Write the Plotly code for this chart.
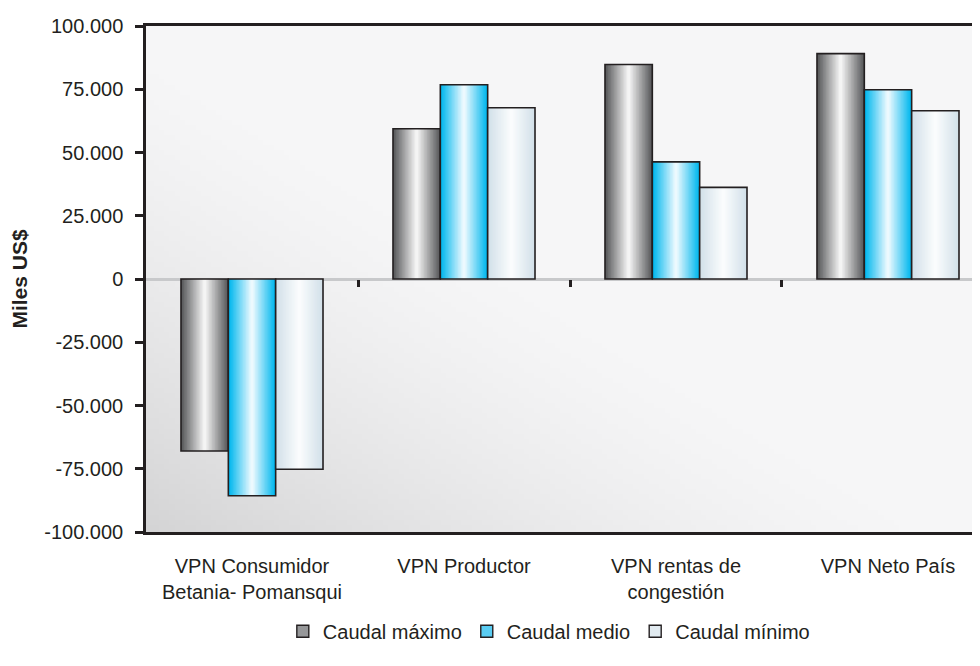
import base64, struct, zlib
import plotly.graph_objects as go

# ---------------- data ----------------
categories = ["VPN Consumidor<br>Betania- Pomansqui", "VPN Productor",
              "VPN rentas de<br>congestión", "VPN Neto País"]
series_names = ["Caudal máximo", "Caudal medio", "Caudal mínimo"]
caudal_maximo = [-68000, 59400, 84800, 89100]
caudal_medio = [-85700, 76800, 46300, 74800]
caudal_minimo = [-75200, 67700, 36200, 66500]
y_tick_values = [-100000, -75000, -50000, -25000, 0, 25000, 50000, 75000, 100000]
y_tick_labels = ["-100.000", "-75.000", "-50.000", "-25.000", "0",
                 "25.000", "50.000", "75.000", "100.000"]

series_values = [caudal_maximo, caudal_medio, caudal_minimo]
edge_colors = [(88, 89, 91), (0, 183, 238), (210, 224, 233)]
center_colors = [(244, 244, 244), (236, 249, 254), (250, 252, 253)]
legend_colors = [(150, 151, 153), (90, 205, 243), (225, 234, 240)]

FONT = "Liberation Sans, Arial, Helvetica, sans-serif"
INK = "#231f20"

x_pos = list(range(len(categories)))
bar_w = 0.2233
N_LAYERS = 16


def lerp(a, b, t):
    return tuple(round(a[i] + (b[i] - a[i]) * t) for i in range(3))


def rgb(c):
    return "rgb(%d,%d,%d)" % c


fig = go.Figure()

for s, (name, vals) in enumerate(zip(series_names, series_values)):
    center = (s - 1) * bar_w
    for k in range(N_LAYERS):
        w = bar_w * (N_LAYERS - k) / N_LAYERS
        t = k / (N_LAYERS - 1)
        col = lerp(edge_colors[s], center_colors[s], t)
        fig.add_trace(go.Bar(
            x=x_pos, y=vals, width=w, offset=center - w / 2,
            name=name, legendgroup=name, showlegend=False,
            marker=dict(color=rgb(col), line=dict(width=0)),
            hoverinfo="skip",
        ))
    # outline on top (also carries the legend entry)
    fig.add_trace(go.Bar(
        x=x_pos, y=vals, width=bar_w, offset=center - bar_w / 2,
        name=name, legendgroup=name, showlegend=False,
        marker=dict(color="rgba(0,0,0,0)", line=dict(color=INK, width=1.6)),
        hovertemplate="%{y}<extra>" + name + "</extra>",
    ))
    # legend-only entry
    fig.add_trace(go.Bar(
        x=[None], y=[None], name=name, legendgroup=name, showlegend=True,
        marker=dict(color=rgb(legend_colors[s]),
                    line=dict(color=INK, width=1.4)),
    ))

# dummy trace to register the tick-only overlay axis
fig.add_trace(go.Scatter(x=[], y=[], xaxis="x2", yaxis="y", showlegend=False,
                         hoverinfo="skip"))


# ---------- background gradient image ----------
def make_png(w, h):
    rows = []
    for j in range(h):
        v = 1 - j / (h - 1)
        row = bytearray([0])
        for i in range(w):
            u = i / (w - 1)
            d = (u + v) / 2
            val = 246 - 34 * max(0.0, 1 - 2.1 * d) ** 1.4
            g = int(round(val))
            row += bytes([g, g, min(255, g + 1)])
        rows.append(bytes(row))
    raw = b"".join(rows)

    def chunk(tag, data):
        c = struct.pack(">I", len(data)) + tag + data
        return c + struct.pack(">I", zlib.crc32(tag + data) & 0xffffffff)

    png = b"\x89PNG\r\n\x1a\n"
    png += chunk(b"IHDR", struct.pack(">IIBBBBB", w, h, 8, 2, 0, 0, 0))
    png += chunk(b"IDAT", zlib.compress(raw, 9))
    png += chunk(b"IEND", b"")
    return "data:image/png;base64," + base64.b64encode(png).decode()


bg = make_png(160, 100)

x_range = [-0.5, 3.434]

fig.update_layout(
    width=972, height=658,
    margin=dict(l=138, r=0, t=18, b=134),
    paper_bgcolor="white",
    plot_bgcolor="rgba(0,0,0,0)",
    barmode="overlay",
    font=dict(family=FONT, size=20, color=INK),
    images=[dict(source=bg, xref="paper", yref="paper", x=0, y=1,
                 sizex=1, sizey=1, sizing="stretch", layer="below",
                 xanchor="left", yanchor="top")],
    xaxis=dict(
        range=x_range, tickmode="array", tickvals=x_pos, ticktext=categories,
        showgrid=False, zeroline=False, ticks="", showline=True, mirror=True,
        linecolor=INK, linewidth=2.5, ticklabelstandoff=14,
        tickfont=dict(family=FONT, size=20, color=INK),
    ),
    xaxis2=dict(
        range=x_range, overlaying="x", anchor="free", position=0.5,
        side="bottom", tickmode="array", tickvals=[0.5, 1.5, 2.5],
        ticks="outside", ticklen=7, tickwidth=2.5, tickcolor=INK,
        showticklabels=False, showgrid=False, zeroline=False, showline=False,
    ),
    yaxis=dict(
        range=[-100000, 100000], tickmode="array", tickvals=y_tick_values,
        ticktext=y_tick_labels, showgrid=False, zeroline=True,
        zerolinecolor="#c8c9cb", zerolinewidth=2.5, showline=True,
        linecolor=INK, linewidth=2.5, ticks="outside", ticklen=8,
        tickwidth=2.5, tickcolor=INK, ticklabelstandoff=8,
        tickfont=dict(family=FONT, size=20, color=INK),
        title=dict(text="<b>Miles US$</b>", standoff=14,
                   font=dict(family=FONT, size=21, color=INK)),
    ),
    legend=dict(
        orientation="h", x=0.483, xanchor="center", y=-0.196,
        yanchor="middle", font=dict(family=FONT, size=20, color=INK),
        bgcolor="rgba(0,0,0,0)", itemwidth=30, traceorder="normal",
    ),
)

fig.write_html("out.html")
